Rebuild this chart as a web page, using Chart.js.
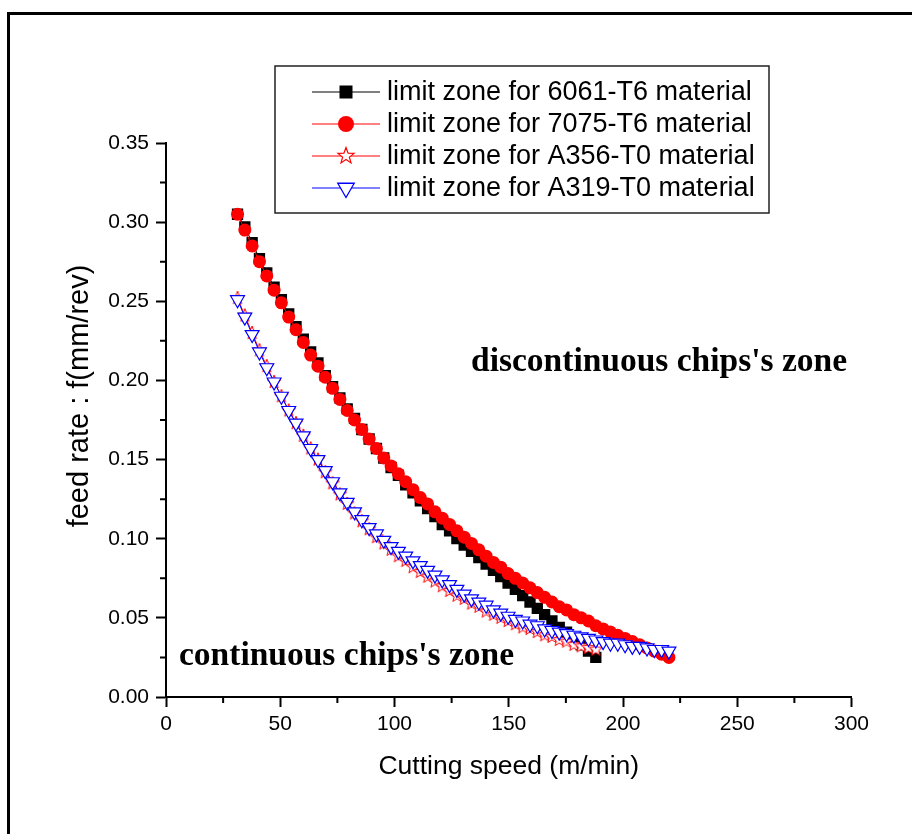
<!DOCTYPE html>
<html>
<head>
<meta charset="utf-8">
<title>Chip zone limits</title>
<script src="https://cdn.jsdelivr.net/npm/chart.js@4.4.1/dist/chart.umd.min.js"></script>
<style>
    html, body { margin: 0; padding: 0; background: #fff; }
    #chart { display: block; }
</style>
</head>
<body>
<canvas id="chart" width="912" height="834"></canvas>
<script>
// cutting speed (m/min) of the read points
const speedLong = [31.3, 34.5, 37.7, 40.9, 44.1, 47.3, 50.5, 53.7, 56.9, 60.1,
                   63.3, 66.5, 69.7, 72.9, 76.1, 79.3, 82.5, 85.7, 88.9, 92.1,
                   95.3, 98.5, 101.7, 104.9, 108.1, 111.3, 114.5, 117.7, 120.9, 124.1,
                   127.3, 130.5, 133.7, 136.9, 140.1, 143.3, 146.5, 149.7, 152.9, 156.1,
                   159.3, 162.5, 165.7, 168.9, 172.1, 175.3, 178.5, 181.7, 184.9, 188.1,
                   191.3, 194.5, 197.7, 200.9, 204.1, 207.3, 210.5, 213.7, 216.9, 220.1];
const speedShort = [31.3, 34.5, 37.7, 40.9, 44.1, 47.3, 50.5, 53.7, 56.9, 60.1,
                    63.3, 66.5, 69.7, 72.9, 76.1, 79.3, 82.5, 85.7, 88.9, 92.1,
                    95.3, 98.5, 101.7, 104.9, 108.1, 111.3, 114.5, 117.7, 120.9, 124.1,
                    127.3, 130.5, 133.7, 136.9, 140.1, 143.3, 146.5, 149.7, 152.9, 156.1,
                    159.3, 162.5, 165.7, 168.9, 172.1, 175.3, 178.5, 181.7, 184.9, 188.1];

// feed rate f (mm/rev) at the limit
const feed6061 = [0.305, 0.297, 0.287, 0.277, 0.268, 0.259, 0.251, 0.242, 0.234, 0.226,
                  0.218, 0.211, 0.203, 0.196, 0.189, 0.182, 0.176, 0.169, 0.163, 0.157,
                  0.151, 0.145, 0.140, 0.134, 0.129, 0.124, 0.119, 0.114, 0.109, 0.105,
                  0.100, 0.096, 0.092, 0.088, 0.084, 0.080, 0.076, 0.072, 0.068, 0.064,
                  0.060, 0.056, 0.052, 0.048, 0.044, 0.041, 0.037, 0.033, 0.029, 0.025];
const feed7075 = [0.305, 0.295, 0.285, 0.275, 0.266, 0.257, 0.249, 0.240, 0.232, 0.224,
                  0.216, 0.209, 0.202, 0.195, 0.188, 0.181, 0.175, 0.169, 0.163, 0.157,
                  0.151, 0.146, 0.141, 0.136, 0.131, 0.126, 0.122, 0.117, 0.113, 0.109,
                  0.105, 0.101, 0.097, 0.093, 0.089, 0.085, 0.082, 0.078, 0.075, 0.072,
                  0.069, 0.066, 0.063, 0.060, 0.057, 0.055, 0.052, 0.050, 0.048, 0.045,
                  0.043, 0.041, 0.039, 0.037, 0.035, 0.033, 0.031, 0.029, 0.027, 0.025];
const feedA356 = [0.252, 0.241, 0.230, 0.219, 0.209, 0.199, 0.190, 0.181, 0.173, 0.165,
                  0.157, 0.150, 0.142, 0.135, 0.128, 0.122, 0.116, 0.111, 0.106, 0.101,
                  0.097, 0.093, 0.089, 0.086, 0.082, 0.079, 0.076, 0.073, 0.070, 0.067,
                  0.064, 0.062, 0.059, 0.057, 0.054, 0.052, 0.050, 0.048, 0.046, 0.044,
                  0.043, 0.041, 0.039, 0.038, 0.036, 0.035, 0.033, 0.032, 0.031, 0.030];
const feedA319 = [0.251, 0.240, 0.229, 0.218, 0.208, 0.199, 0.190, 0.181, 0.173, 0.165,
                  0.157, 0.150, 0.143, 0.136, 0.129, 0.123, 0.117, 0.112, 0.107, 0.103,
                  0.099, 0.095, 0.092, 0.089, 0.086, 0.083, 0.080, 0.077, 0.074, 0.071,
                  0.068, 0.065, 0.062, 0.060, 0.058, 0.055, 0.053, 0.051, 0.049, 0.048,
                  0.046, 0.045, 0.043, 0.042, 0.041, 0.040, 0.039, 0.038, 0.037, 0.036,
                  0.035, 0.034, 0.034, 0.033, 0.032, 0.032, 0.031, 0.030, 0.030, 0.029];

const seriesLabels = ["limit zone for 6061-T6 material", "limit zone for 7075-T6 material",
                      "limit zone for A356-T0 material", "limit zone for A319-T0 material"];
const minorSpeedTicks = [25, 75, 125, 175, 225, 275];
const minorFeedTicks = [0.025, 0.075, 0.125, 0.175, 0.225, 0.275, 0.325];

const SANS = "'Liberation Sans', Arial, Helvetica, sans-serif";
const SERIF = "'Liberation Serif', 'Times New Roman', serif";

// hollow five point star, Chart.js has no such point style
function makeStar(outer, lineWidth) {
    const size = Math.ceil(outer * 2 + lineWidth * 2 + 2);
    const c = document.createElement("canvas");
    c.width = size;
    c.height = size;
    const g = c.getContext("2d");
    const inner = outer * 0.42;
    g.beginPath();
    for (let i = 0; i < 10; i++) {
        const r = i % 2 === 0 ? outer : inner;
        const a = -Math.PI / 2 + i * Math.PI / 5;
        const px = size / 2 + r * Math.cos(a);
        const py = size / 2 + r * Math.sin(a);
        if (i === 0) g.moveTo(px, py); else g.lineTo(px, py);
    }
    g.closePath();
    g.fillStyle = "#fff";
    g.fill();
    g.lineWidth = lineWidth;
    g.strokeStyle = "#ff0000";
    g.stroke();
    return c;
}

const starPoint = makeStar(7, 1);
const starLegend = makeStar(8.5, 1.2);

function toPoints(xs, ys) {
    return ys.map((v, i) => ({ x: xs[i], y: v }));
}

// page frame (only left and top edges are inside the picture)
const framePlugin = {
    id: "frame",
    beforeDraw(chart) {
        const ctx = chart.ctx;
        ctx.save();
        ctx.fillStyle = "#fff";
        ctx.fillRect(0, 0, chart.width, chart.height);
        ctx.fillStyle = "#000";
        ctx.fillRect(7, 12, chart.width, 3);
        ctx.fillRect(7, 12, 3, chart.height);
        ctx.restore();
    }
};

const minorTicksPlugin = {
    id: "minorTicks",
    afterDraw(chart) {
        const { ctx, chartArea, scales } = chart;
        ctx.save();
        ctx.strokeStyle = "#000";
        ctx.lineWidth = 2;
        ctx.beginPath();
        minorSpeedTicks.forEach(v => {
            const px = scales.x.getPixelForValue(v);
            ctx.moveTo(px, chartArea.bottom);
            ctx.lineTo(px, chartArea.bottom + 6);
        });
        minorFeedTicks.forEach(v => {
            const py = scales.y.getPixelForValue(v);
            ctx.moveTo(chartArea.left, py);
            ctx.lineTo(chartArea.left - 6, py);
        });
        ctx.stroke();
        ctx.restore();
    }
};

// y axis title sits a bit above the middle of the axis in the original
const yTitlePlugin = {
    id: "yTitle",
    afterDraw(chart) {
        const ctx = chart.ctx;
        ctx.save();
        ctx.translate(80, 396);
        ctx.rotate(-Math.PI / 2);
        ctx.fillStyle = "#000";
        ctx.font = "29px " + SANS;
        ctx.textAlign = "center";
        ctx.textBaseline = "middle";
        ctx.fillText("feed rate : f(mm/rev)", 0, 0);
        ctx.restore();
    }
};

const zoneTextPlugin = {
    id: "zoneText",
    afterDraw(chart) {
        const ctx = chart.ctx;
        ctx.save();
        ctx.fillStyle = "#000";
        ctx.font = "bold 33.5px " + SERIF;
        ctx.textBaseline = "alphabetic";
        ctx.fillText("discontinuous chips's zone", 471, 371);
        ctx.fillText("continuous chips's zone", 179, 665);
        ctx.restore();
    }
};

const legendPlugin = {
    id: "boxLegend",
    afterDraw(chart) {
        const ctx = chart.ctx;
        const rows = [92, 124, 156, 188];
        const colors = ["#000", "#ff0000", "#ff0000", "#0000ff"];
        ctx.save();
        ctx.fillStyle = "#fff";
        ctx.fillRect(275, 66, 494, 147);
        ctx.strokeStyle = "#222";
        ctx.lineWidth = 1.5;
        ctx.strokeRect(275, 66, 494, 147);

        rows.forEach((y, i) => {
            ctx.strokeStyle = colors[i];
            ctx.lineWidth = 1;
            ctx.beginPath();
            ctx.moveTo(312, y);
            ctx.lineTo(380, y);
            ctx.stroke();

            const mx = 346;
            ctx.fillStyle = colors[i];
            if (i === 0) {
                ctx.fillRect(mx - 6.5, y - 6.5, 13, 13);
            } else if (i === 1) {
                ctx.beginPath();
                ctx.arc(mx, y, 8, 0, Math.PI * 2);
                ctx.fill();
            } else if (i === 2) {
                ctx.drawImage(starLegend, mx - starLegend.width / 2, y - starLegend.height / 2);
            } else {
                const r = 9.5;
                ctx.beginPath();
                ctx.moveTo(mx, y + r);
                ctx.lineTo(mx - r * 0.866, y - r / 2);
                ctx.lineTo(mx + r * 0.866, y - r / 2);
                ctx.closePath();
                ctx.fillStyle = "#fff";
                ctx.fill();
                ctx.lineWidth = 1.3;
                ctx.stroke();
            }

            ctx.fillStyle = "#000";
            ctx.font = "27px " + SANS;
            ctx.textBaseline = "middle";
            ctx.fillText(seriesLabels[i], 387, y + 1);
        });
        ctx.restore();
    }
};

const ctx = document.getElementById("chart").getContext("2d");
const chipChart = new Chart(ctx, {
    type: "scatter",
    data: {
        datasets: [
            {
                label: seriesLabels[0],
                data: toPoints(speedShort, feed6061),
                showLine: true,
                borderColor: "#000",
                backgroundColor: "#000",
                borderWidth: 1,
                pointStyle: "rect",
                pointRadius: 8,
                pointBorderWidth: 0,
                order: 4
            },
            {
                label: seriesLabels[1],
                data: toPoints(speedLong, feed7075),
                showLine: true,
                borderColor: "#ff0000",
                backgroundColor: "#ff0000",
                borderWidth: 1,
                pointStyle: "circle",
                pointRadius: 6.5,
                pointBorderWidth: 0,
                order: 3
            },
            {
                label: seriesLabels[2],
                data: toPoints(speedShort, feedA356),
                showLine: true,
                borderColor: "#ff0000",
                backgroundColor: "#fff",
                borderWidth: 1,
                pointStyle: starPoint,
                pointRadius: 7,
                order: 2
            },
            {
                label: seriesLabels[3],
                data: toPoints(speedLong, feedA319),
                showLine: true,
                borderColor: "#0000ff",
                backgroundColor: "#fff",
                borderWidth: 1,
                pointStyle: "triangle",
                pointRotation: 180,
                pointRadius: 8,
                pointBorderWidth: 1.2,
                order: 1
            }
        ]
    },
    options: {
        responsive: false,
        animation: false,
        devicePixelRatio: 1,
        layout: {
            padding: { left: 0, right: 60.5, top: 143, bottom: 0 }
        },
        plugins: {
            legend: { display: false },
            tooltip: { enabled: false }
        },
        scales: {
            x: {
                type: "linear",
                min: 0,
                max: 300,
                afterFit: (scale) => { scale.height = 137; },
                border: { display: true, color: "#000", width: 2 },
                grid: { drawOnChartArea: false, drawTicks: true, tickLength: 10, tickWidth: 2, tickColor: "#000" },
                ticks: {
                    stepSize: 50,
                    color: "#000",
                    padding: 5,
                    maxRotation: 0,
                    font: { family: SANS, size: 21 }
                },
                title: {
                    display: true,
                    text: "Cutting speed (m/min)",
                    color: "#000",
                    font: { family: SANS, size: 26.5 },
                    padding: { top: 0, bottom: 51 }
                }
            },
            y: {
                type: "linear",
                min: 0,
                max: 0.35,
                afterFit: (scale) => { scale.width = 166; },
                border: { display: true, color: "#000", width: 2 },
                grid: { drawOnChartArea: false, drawTicks: true, tickLength: 10, tickWidth: 2, tickColor: "#000" },
                ticks: {
                    stepSize: 0.05,
                    color: "#000",
                    padding: 7,
                    font: { family: SANS, size: 21 },
                    callback: (v) => Number(v).toFixed(2)
                },
                title: { display: false }
            }
        }
    },
    plugins: [framePlugin, minorTicksPlugin, yTitlePlugin, zoneTextPlugin, legendPlugin]
});
</script>
</body>
</html>
